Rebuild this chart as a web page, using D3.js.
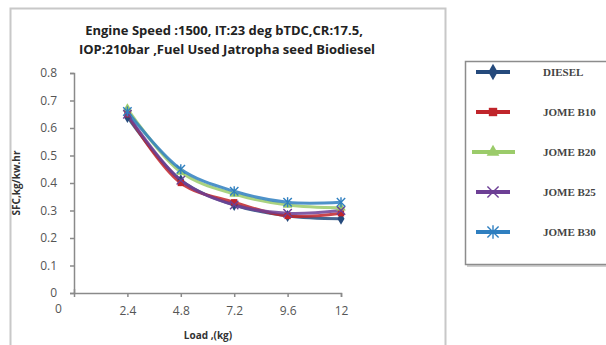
<!DOCTYPE html>
<html>
<head>
<meta charset="utf-8">
<script src="https://cdn.jsdelivr.net/npm/d3@7"></script>
<style>
  body { margin: 0; background: #fff; }
  svg { display: block; }
</style>
</head>
<body>
<svg id="chart" width="606" height="345"></svg>
<script>
// Chart data
const loads = [2.4, 4.8, 7.2, 9.6, 12];
const seriesNames = ["DIESEL", "JOME B10", "JOME B20", "JOME B25", "JOME B30"];
const diesel = [0.64, 0.41, 0.32, 0.28, 0.27];
const jomeB10 = [0.65, 0.40, 0.33, 0.28, 0.29];
const jomeB20 = [0.67, 0.44, 0.36, 0.32, 0.31];
const jomeB25 = [0.65, 0.41, 0.32, 0.29, 0.30];
const jomeB30 = [0.66, 0.45, 0.37, 0.33, 0.33];
const yTicks = [0, 0.1, 0.2, 0.3, 0.4, 0.5, 0.6, 0.7, 0.8];
const xTicks = [0, 2.4, 4.8, 7.2, 9.6, 12];

const colors = ["#254a7c", "#c0252b", "#9bcb6a", "#6d3f95", "#2f7fc0"];
const symbols = ["diamond", "square", "triangle", "xstar", "star"];
const allSeries = [diesel, jomeB10, jomeB20, jomeB25, jomeB30];

const svg = d3.select("#chart");

// outer chart frame
svg.append("path")
   .attr("d", "M10.5,345 V8.5 H445.5 V345")
   .attr("fill", "none")
   .attr("stroke", "#c8c8c8")
   .attr("stroke-width", 2);

// scales
const x = d3.scaleLinear().domain([0, 12]).range([74, 341]);
const y = d3.scaleLinear().domain([0, 0.8]).range([293, 73]);

// title
const title = svg.append("text")
   .attr("text-anchor", "middle")
   .attr("font-family", "'Open Sans', sans-serif")
   .attr("font-weight", "bold")
   .attr("font-size", 13)
   .attr("fill", "#222");
title.append("tspan").attr("x", 224).attr("y", 35).text("Engine Speed :1500, IT:23 deg bTDC,CR:17.5,");
title.append("tspan").attr("x", 227).attr("y", 54).text("IOP:210bar ,Fuel Used Jatropha seed Biodiesel");

// y axis
const yAxis = svg.append("g")
   .attr("transform", `translate(${x(0)},0)`)
   .call(d3.axisLeft(y).tickValues(yTicks).tickSize(4).tickFormat(d => d === 0 ? "0" : d3.format(".1f")(d)));
yAxis.selectAll("text").attr("dx", -10);

// x axis
const xAxis = svg.append("g")
   .attr("transform", `translate(0,${y(0)})`)
   .call(d3.axisBottom(x).tickValues(xTicks).tickSize(4).tickFormat(d => d));
xAxis.selectAll("text").attr("dy", "1.25em");
xAxis.selectAll(".tick").filter(d => d === 0).select("text").attr("dx", -16).attr("dy", "1.05em");
xAxis.selectAll(".tick").filter(d => d === 0).select("line").attr("y2", -4);

[yAxis, xAxis].forEach(g => {
  g.select(".domain").attr("stroke", "#8a8a8a").attr("stroke-width", 1.5);
  g.selectAll(".tick line").attr("stroke", "#8a8a8a").attr("stroke-width", 1.5);
  g.selectAll("text")
   .attr("font-family", "'Open Sans', sans-serif")
   .attr("font-size", 12)
   .attr("fill", "#555");
});

// axis titles
svg.append("text")
   .attr("transform", `translate(20,${y(0.4)}) rotate(-90)`)
   .attr("text-anchor", "middle")
   .attr("font-family", "'Open Sans', sans-serif")
   .attr("font-weight", "bold")
   .attr("font-size", 10)
   .attr("fill", "#333")
   .text("SFC,kg/kw.hr");

svg.append("text")
   .attr("x", 208).attr("y", 339)
   .attr("text-anchor", "middle")
   .attr("font-family", "'Open Sans', sans-serif")
   .attr("font-weight", "bold")
   .attr("font-size", 10)
   .attr("fill", "#333")
   .text("Load ,(kg)");

// markers
function drawMarker(g, kind, color, size) {
  const s = size;
  if (kind === "diamond") {
    g.append("path").attr("d", d3.symbol(d3.symbolDiamond, s * s * 1.2)()).attr("fill", color);
  } else if (kind === "square") {
    g.append("path").attr("d", d3.symbol(d3.symbolSquare, s * s * 1.1)()).attr("fill", color);
  } else if (kind === "triangle") {
    g.append("path").attr("d", d3.symbol(d3.symbolTriangle, s * s * 1.1)()).attr("fill", color);
  } else {
    const r = s * 0.7;
    const lines = kind === "xstar"
      ? [[-r, -r, r, r], [-r, r, r, -r]]
      : [[-r, -r, r, r], [-r, r, r, -r], [0, -r * 1.2, 0, r * 1.2]];
    lines.forEach(l => g.append("line")
       .attr("x1", l[0]).attr("y1", l[1]).attr("x2", l[2]).attr("y2", l[3])
       .attr("stroke", color).attr("stroke-width", 1.4));
  }
}

// lines
const line = d3.line()
   .x((d, i) => x(loads[i]))
   .y(d => y(d))
   .curve(d3.curveCatmullRom.alpha(0.5));

const plot = svg.append("g");
allSeries.forEach((vals, si) => {
  plot.append("path")
     .datum(vals)
     .attr("fill", "none")
     .attr("stroke", colors[si])
     .attr("stroke-width", 3)
     .attr("stroke-opacity", 0.85)
     .attr("d", line);
});
allSeries.forEach((vals, si) => {
  vals.forEach((v, i) => {
    const g = plot.append("g").attr("transform", `translate(${x(loads[i])},${y(v)})`);
    drawMarker(g, symbols[si], colors[si], 6);
  });
});

// legend box
svg.append("rect")
   .attr("x", 467).attr("y", 63).attr("width", 145).attr("height", 204)
   .attr("fill", "#d0d0d0");
svg.append("rect")
   .attr("x", 465.5).attr("y", 61.5).attr("width", 145).attr("height", 203)
   .attr("fill", "#fff")
   .attr("stroke", "#8c8c8c")
   .attr("stroke-width", 1.5);

const legendY = d3.scalePoint().domain(seriesNames).range([72, 232]);
seriesNames.forEach((name, si) => {
  const ly = legendY(name);
  const lg = svg.append("g");
  lg.append("line")
    .attr("x1", si === 2 ? 472 : 476).attr("x2", si === 2 ? 515 : 510)
    .attr("y1", ly).attr("y2", ly)
    .attr("stroke", colors[si])
    .attr("stroke-width", 4);
  drawMarker(lg.append("g").attr("transform", `translate(493,${ly})`), symbols[si], colors[si], 8);
  lg.append("text")
    .attr("x", 543).attr("y", ly + 4)
    .attr("font-family", "'Liberation Serif', serif")
    .attr("font-weight", "bold")
    .attr("font-size", 11)
    .attr("fill", "#444")
    .text(name);
});
</script>
</body>
</html>
